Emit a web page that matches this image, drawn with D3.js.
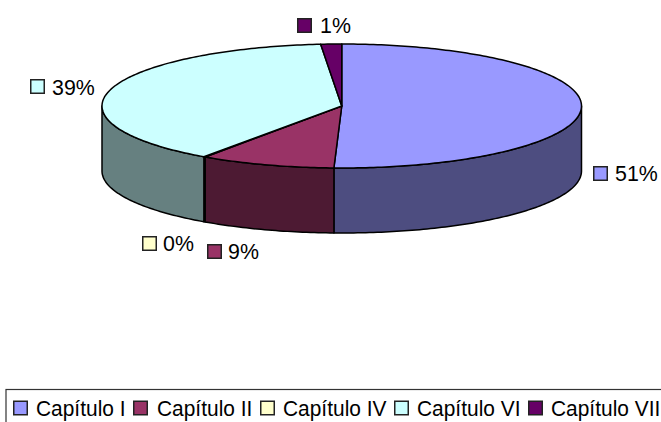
<!DOCTYPE html>
<html><head><meta charset="utf-8">
<script src="https://cdn.jsdelivr.net/npm/d3@7"></script>
<style>html,body{margin:0;padding:0;background:#fff}svg{display:block}text{font-family:"Liberation Sans",Arial,sans-serif;fill:#000}</style>
</head><body>
<script>
const categories = ["Capítulo I","Capítulo II","Capítulo IV","Capítulo VI","Capítulo VII"];
const values = [50.52,9.13,0.1,38.85,1.4];
const topColors = ["#9999ff","#993366","#ffffcc","#ccffff","#660066"];
const sideColors = ["#4d4d80","#4d1a33","#808066","#668080","#330033"];
const labelAnchors = [[593,166,615,181],[207,244,228,258.5],[142,236,163,250.5],[30,79,52,94.5],[297,18,320,33]];
const legendSwatchX = [13,133,260,394,528];
const legendTextX = [36,157,283,417,551];

const W=661,H=422,depth=65;
const svg=d3.select("body").append("svg").attr("width",W).attr("height",H);
const sx=d3.scaleLinear().domain([-1,1]).range([102,581.5]);
const sy=d3.scaleLinear().domain([-1,1]).range([44,168]);
const px=a=>sx(Math.sin(a)), py=a=>sy(-Math.cos(a));
const arcs=d3.pie().sort(null).value(d=>d)(values);
const line=d3.line();
const sample=(a0,a1)=>{const n=Math.max(2,Math.ceil(Math.abs(a1-a0)*60));
  return d3.range(n+1).map(i=>a0+(a1-a0)*i/n);};

// side wall: visible for angles between 90° and 270°
arcs.forEach((d,i)=>{
  const a0=Math.max(d.startAngle,Math.PI/2),a1=Math.min(d.endAngle,3*Math.PI/2);
  if(a1<=a0)return;
  const as=sample(a0,a1);
  const pts=as.map(a=>[px(a),py(a)]).concat(as.slice().reverse().map(a=>[px(a),py(a)+depth]));
  svg.append("path").attr("d",line(pts)+"Z").attr("fill",sideColors[i])
    .attr("stroke","#000").attr("stroke-width",1.5).attr("stroke-linejoin","round");
});
// top face
arcs.forEach((d,i)=>{
  const pts=[[sx(0),sy(0)]].concat(sample(d.startAngle,d.endAngle).map(a=>[px(a),py(a)]));
  svg.append("path").attr("d",line(pts)+"Z").attr("fill",topColors[i])
    .attr("stroke","#000").attr("stroke-width",1.5).attr("stroke-linejoin","round");
});
// data labels
values.forEach((v,i)=>{
  const [bx,by,tx,ty]=labelAnchors[i];
  svg.append("rect").attr("x",bx+.75).attr("y",by+.75).attr("width",13.5).attr("height",13.5)
    .attr("fill",topColors[i]).attr("stroke","#222").attr("stroke-width",1.5);
  svg.append("text").attr("transform",`translate(${tx},${ty}) scale(0.95,1)`)
    .style("font-size","22.5px").text(d3.format(".0f")(v)+"%");
});
// legend
svg.append("rect").attr("x",6).attr("y",389.5).attr("width",670).attr("height",50)
  .attr("fill","none").attr("stroke","#333").attr("stroke-width",1.2);
categories.forEach((c,i)=>{
  svg.append("rect").attr("x",legendSwatchX[i]+.75).attr("y",401.25).attr("width",13.5).attr("height",13.5)
    .attr("fill",topColors[i]).attr("stroke","#222").attr("stroke-width",1.5);
  svg.append("text").attr("transform",`translate(${legendTextX[i]},415.5) scale(0.93,1)`)
    .style("font-size","22.5px").text(c);
});
</script>
</body></html>
